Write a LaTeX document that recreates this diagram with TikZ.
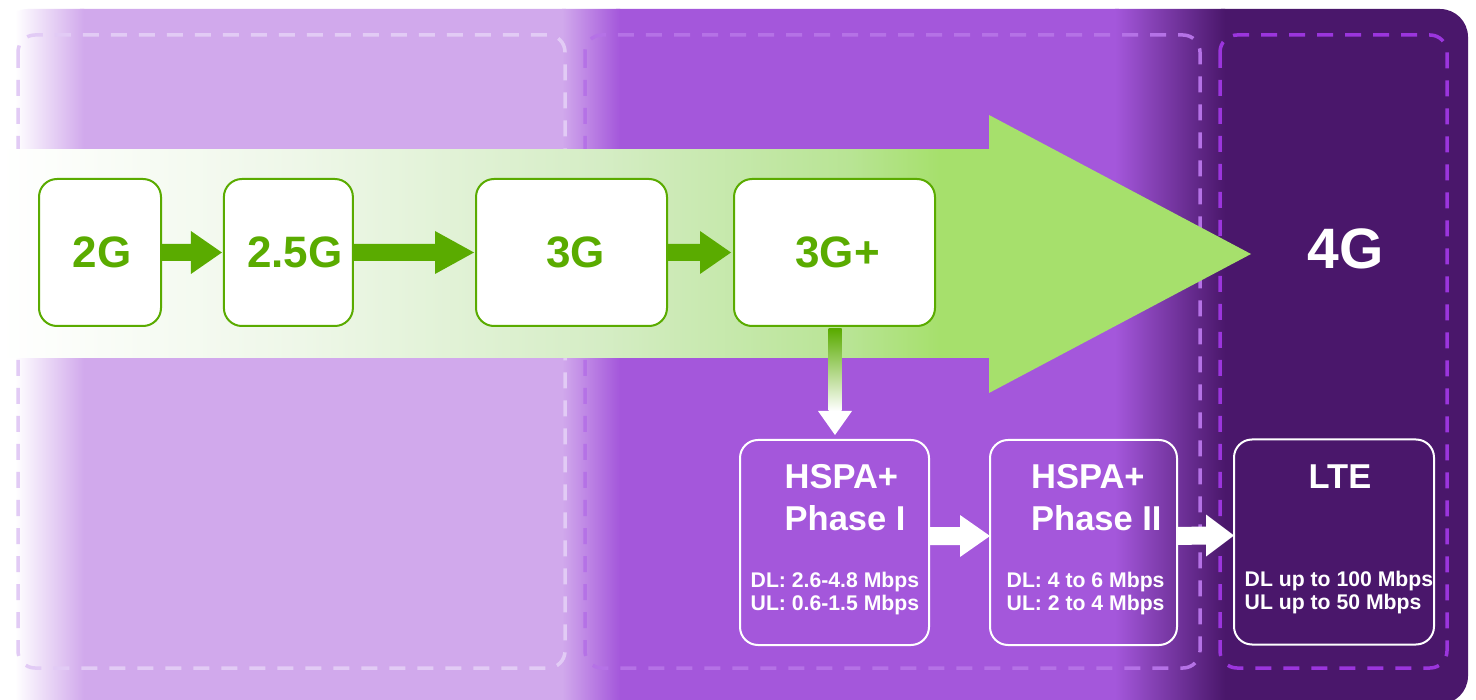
\documentclass[tikz,border=0pt]{standalone}
\usepackage{fontspec}
\setmainfont{Liberation Sans}
\definecolor{lpurple}{HTML}{D1A9EC}
\definecolor{mpurple}{HTML}{A457DB}
\definecolor{dpurple}{HTML}{4A176B}
\definecolor{ggreen}{HTML}{5AAB00}
\definecolor{lgreen}{HTML}{A6E06C}
\definecolor{cthree}{HTML}{EEF7E8}
\definecolor{csix}{HTML}{D5EDC5}
\definecolor{ceight}{HTML}{B8E494}
\definecolor{dashone}{HTML}{E2CBF5}
\definecolor{dashtwo}{HTML}{B572E6}
\definecolor{dashthree}{HTML}{9B35DD}
\pgfdeclarehorizontalshading{bandshade}{100bp}{color(0bp)=(white); color(25bp)=(white);
  color(40.17bp)=(cthree); color(55.33bp)=(csix); color(67.97bp)=(ceight);
  color(72.52bp)=(lgreen); color(100bp)=(lgreen)}
% block arrow: #1 start coord, #2 tip coord, #3 colour, #4 shaft half, #5 head half, #6 head length
\newcommand\blkarrow[6]{%
  \fill[#3] ([yshift=#4]#1) -- ([xshift=-#6,yshift=#4]#2) -- ([xshift=-#6,yshift=#5]#2) -- (#2)
    -- ([xshift=-#6,yshift=-#5]#2) -- ([xshift=-#6,yshift=-#4]#2) -- ([yshift=-#4]#1) -- cycle;}
\begin{document}
\begin{tikzpicture}[x=1pt,y=-1pt,
  gbox/.style={draw=ggreen, line width=2pt, fill=white, rounded corners=18pt, minimum height=147pt,
    inner sep=0pt, outer sep=0pt, text=ggreen, font=\fontsize{44}{52}\selectfont\bfseries},
  pbox/.style={draw=white, line width=2pt, rounded corners=18pt, minimum height=205pt,
    inner sep=0pt, outer sep=0pt},
  dashbox/.style={line width=3.5pt, dash pattern=on 16pt off 12pt, rounded corners=17pt},
  ttl/.style={text=white, font=\fontsize{34.5}{40}\selectfont\bfseries, inner sep=0pt, anchor=base west},
  det/.style={text=white, font=\fontsize{21.2}{24}\selectfont\bfseries, inner sep=0pt, anchor=base west},
]
\useasboundingbox (0,0) rectangle (1476,700);
\fill[white] (0,0) rectangle (1476,700);
% background bands
\begin{scope}
  \clip[rounded corners=28pt] (0,9) rectangle (1468,704);
  \fill[lpurple] (80,0) rectangle (566,710);
  \fill[mpurple] (616,0) rectangle (1119,710);
  \fill[dpurple] (1221,0) rectangle (1470,710);
  \shade[left color=white, right color=lpurple] (15,0) rectangle (84,710);
  \shade[left color=lpurple, right color=mpurple] (562,0) rectangle (620,710);
  \shade[left color=mpurple, right color=dpurple] (1115,0) rectangle (1225,710);
\end{scope}
% dashed frames
\draw[dashbox, draw=dashone] (18,35) rectangle (565,668);
\draw[dashbox, draw=dashtwo] (585,35) rectangle (1200,668);
\draw[dashbox, draw=dashthree] (1220,35) rectangle (1447,668);
% big green arrow
\fill[lgreen] (0,150) -- (989,150) -- (989,115) -- (1251,254) -- (989,393) -- (989,358) -- (0,358) -- cycle;
\shade[shading=bandshade] (0,150) rectangle (989,358);
% green boxes
\node[gbox, minimum width=122pt] (g1) at (100,252.5) {\hspace*{4pt}\raisebox{-2pt}{2G}};
\node[gbox, minimum width=129pt] (g2) at (288.4,252.5) {\hspace*{13pt}\raisebox{-2pt}{2.5G}};
\node[gbox, minimum width=191pt] (g3) at (571.5,252.5) {\hspace*{8pt}\raisebox{-2pt}{3G}};
\node[gbox, minimum width=201pt] (g4) at (834.5,252.5) {\hspace*{6pt}\raisebox{-2pt}{3G+}};
% green connectors
\coordinate (a1s) at (g1.east); \coordinate (a1e) at ([xshift=-2pt]g2.west);
\coordinate (a2s) at (g2.east); \coordinate (a2e) at ([xshift=-2pt]g3.west);
\coordinate (a3s) at (g3.east); \coordinate (a3e) at ([xshift=-3pt]g4.west);
\blkarrow{a1s}{a1e}{ggreen}{8.5pt}{21.5pt}{31pt}
\blkarrow{a2s}{a2e}{ggreen}{8.5pt}{21.5pt}{39pt}
\blkarrow{a3s}{a3e}{ggreen}{8.5pt}{21.5pt}{31pt}
% 4G label
\node[text=white, font=\fontsize{57}{60}\selectfont\bfseries, inner sep=0pt] (g5) at (1345.5,249) {4G};
% purple boxes
\node[pbox, minimum width=189pt] (p1) at (834.5,542.5) {};
\node[pbox, minimum width=187pt] (p2) at (1083.5,542.5) {};
\node[pbox, minimum width=200pt] (p3) at (1334,542) {};
% vertical arrow 3G+ -> HSPA+ Phase I
\coordinate (vs) at ([yshift=-3pt]g4.south);
\coordinate (ve) at ([yshift=5pt]p1.north);
\shade[top color=ggreen, bottom color=white] ([xshift=-6pt]vs) rectangle ([xshift=7pt,yshift=24pt]ve);
\fill[white] ([xshift=-16.5pt,yshift=24pt]ve) -- ([xshift=17.5pt,yshift=24pt]ve) -- ([xshift=0.5pt]ve) -- cycle;
% white connectors
\coordinate (w1s) at ([yshift=6.5pt]p1.east); \coordinate (w1e) at ([yshift=6.5pt]p2.west);
\coordinate (w2s) at ([yshift=6.5pt]p2.east); \coordinate (w2e) at ([yshift=6.5pt]p3.west);
\blkarrow{w1s}{w1e}{white}{9pt}{21pt}{30pt}
\blkarrow{w2s}{w2e}{white}{9pt}{21pt}{28pt}
% texts in purple boxes
\node[ttl] (p1a) at ([xshift=44.5pt,yshift=-49pt]p1.north west) {HSPA+};
\node[ttl] (p1b) at ([xshift=44.5pt,yshift=-90pt]p1.north west) {Phase I};
\node[det] (p1c) at ([xshift=10.5pt,yshift=-147pt]p1.north west) {DL: 2.6-4.8 Mbps};
\node[det] (p1d) at ([xshift=10.5pt,yshift=-170pt]p1.north west) {UL: 0.6-1.5 Mbps};
\node[ttl] (p2a) at ([xshift=41pt,yshift=-49pt]p2.north west) {HSPA+};
\node[ttl] (p2b) at ([xshift=41pt,yshift=-90pt]p2.north west) {Phase II};
\node[det] (p2c) at ([xshift=16.5pt,yshift=-147pt]p2.north west) {DL: 4 to 6 Mbps};
\node[det] (p2d) at ([xshift=16.5pt,yshift=-170pt]p2.north west) {UL: 2 to 4 Mbps};
\node[ttl, anchor=base] (p3a) at ([xshift=6pt,yshift=-49pt]p3.north) {LTE};
\node[det] (p3c) at ([xshift=10.5pt,yshift=-147pt]p3.north west) {DL up to 100 Mbps};
\node[det] (p3d) at ([xshift=10.5pt,yshift=-170pt]p3.north west) {UL up to 50 Mbps};
\end{tikzpicture}
\end{document}
